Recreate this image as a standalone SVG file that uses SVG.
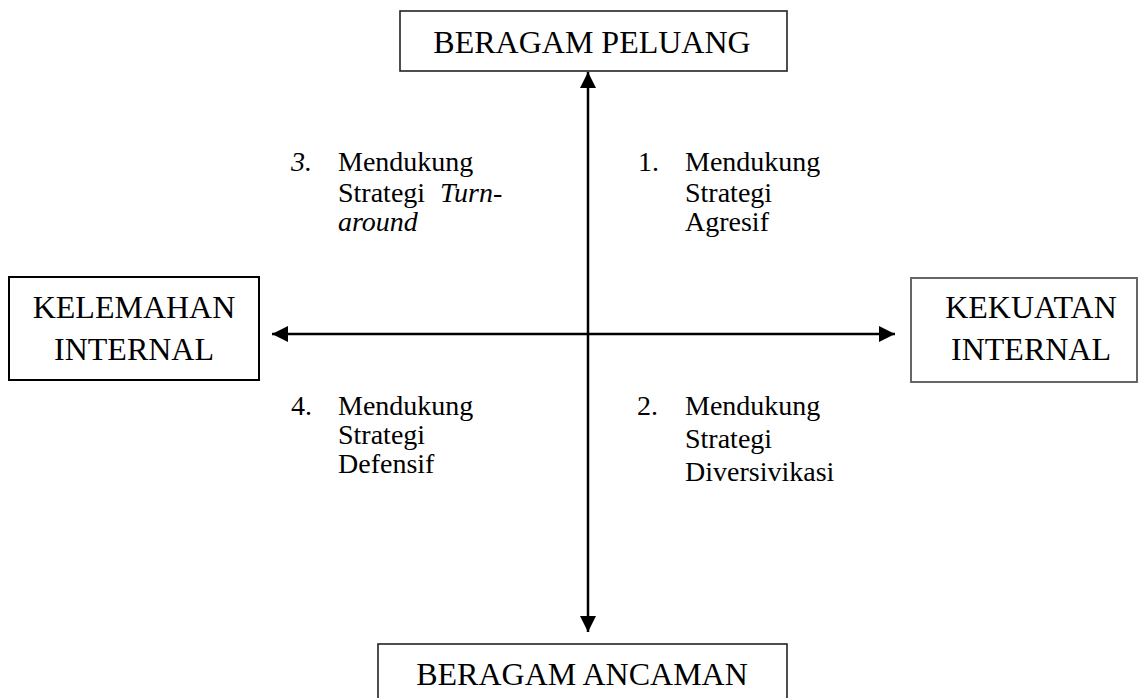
<svg xmlns="http://www.w3.org/2000/svg" width="1144" height="698" viewBox="0 0 1144 698">
<style>
.box{fill:#fff;stroke:#222;stroke-width:1.6}
text{font-family:'Liberation Serif','Times New Roman',Times,serif;fill:#000}
.hd{font-size:32px;text-anchor:middle}
.q{font-size:28px}
.ax{stroke:#000;stroke-width:2.5;fill:none}
</style>
<defs>
<marker id="ah" markerUnits="userSpaceOnUse" markerWidth="16" markerHeight="16" viewBox="0 0 16 16" refX="16" refY="8" orient="auto-start-reverse">
<path d="M0,0 L16,8 L0,16 Z" fill="#000"/>
</marker>
</defs>
<rect width="1144" height="698" fill="#fff"/>
<g id="connectors">
<line class="ax" x1="588" y1="632" x2="588" y2="72" marker-start="url(#ah)" marker-end="url(#ah)"/>
<line class="ax" x1="272" y1="334" x2="895" y2="334" marker-start="url(#ah)" marker-end="url(#ah)"/>
</g>
<g id="peluang">
<rect class="box" x="400" y="11" width="387" height="60"/>
<text class="hd" x="592" y="53" font-family="Liberation Serif">BERAGAM PELUANG</text>
</g>
<g id="kelemahan">
<rect class="box" x="9" y="277" width="250" height="103" style="stroke:#000;stroke-width:2"/>
<text class="hd" x="134" y="318" font-family="Liberation Serif">KELEMAHAN</text>
<text class="hd" x="134" y="360" font-family="Liberation Serif">INTERNAL</text>
</g>
<g id="kekuatan">
<rect class="box" x="911" y="278" width="226" height="104" style="stroke:#666;stroke-width:2"/>
<text class="hd" x="1031" y="318" font-family="Liberation Serif">KEKUATAN</text>
<text class="hd" x="1031" y="360" font-family="Liberation Serif">INTERNAL</text>
</g>
<g id="ancaman">
<rect class="box" x="378" y="644" width="409" height="70"/>
<text class="hd" x="582" y="685" font-family="Liberation Serif">BERAGAM ANCAMAN</text>
</g>
<g id="q3" font-family="Liberation Serif">
<text class="q" x="291" y="171" font-style="italic">3.</text>
<text class="q" x="338" y="171">Mendukung</text>
<text class="q" x="338" y="202">Strategi<tspan x="440" font-style="italic">Turn-</tspan></text>
<text class="q" x="338" y="231" font-style="italic">around</text>
</g>
<g id="q1" font-family="Liberation Serif">
<text class="q" x="638" y="171">1.</text>
<text class="q" x="685" y="171">Mendukung</text>
<text class="q" x="685" y="202">Strategi</text>
<text class="q" x="685" y="231">Agresif</text>
</g>
<g id="q4" font-family="Liberation Serif">
<text class="q" x="291" y="415">4.</text>
<text class="q" x="338" y="415">Mendukung</text>
<text class="q" x="338" y="444">Strategi</text>
<text class="q" x="338" y="473">Defensif</text>
</g>
<g id="q2" font-family="Liberation Serif">
<text class="q" x="637" y="415">2.</text>
<text class="q" x="685" y="415">Mendukung</text>
<text class="q" x="685" y="448">Strategi</text>
<text class="q" x="685" y="481">Diversivikasi</text>
</g>
</svg>
